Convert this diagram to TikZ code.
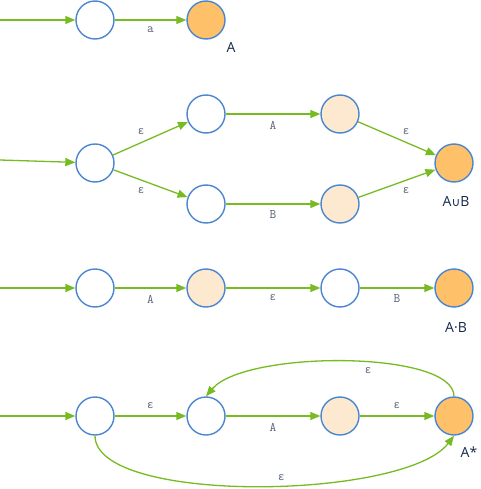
\documentclass[tikz,border=0pt]{standalone}
\usepackage{fontspec}
\setmainfont{Open Sans}
\newfontfamily\epsfont{Liberation Mono}
\newfontfamily\symfont{DejaVu Sans}
\newcommand{\eps}{{\epsfont\fontsize{11}{11}\selectfont ε}}
\usetikzlibrary{arrows.meta,positioning}
\definecolor{ringblue}{HTML}{4A86CF}
\definecolor{edgegreen}{HTML}{77BB22}
\definecolor{paleorange}{HTML}{FDE9D0}
\definecolor{fullorange}{HTML}{FEC068}
\definecolor{labgrey}{HTML}{55627A}
\definecolor{navy}{HTML}{14284B}
\begin{document}
\begin{tikzpicture}[x=1pt,y=-1pt,
  st/.style={circle,draw=ringblue,line width=1.4pt,minimum size=38pt,inner sep=0pt,fill=white},
  half/.style={st,fill=paleorange},
  acc/.style={st,fill=fullorange},
  lab/.style={font=\ttfamily\fontsize{13}{13}\selectfont,text=labgrey},
  finlab/.style={font=\fontsize{14}{14}\selectfont,text=navy},
  every edge/.style={draw=edgegreen,line width=1.3pt},
  >={Triangle[length=10pt,width=8pt]}]
\useasboundingbox (0,0) rectangle (480,489);
% row 1: a
\coordinate (i1) at (0,20);
\node[st] (p0) at (95,20) {};
\node[acc] (p1) at (206,20) {};
\node[finlab] at (231,47) {A};
% row 2: union
\coordinate (i2) at (0,160);
\node[st] (u0) at (95,163) {};
\node[st] (u1) at (206,114) {};
\node[half] (u2) at (340,114) {};
\node[st] (u3) at (206,204) {};
\node[half] (u4) at (340,204) {};
\node[acc] (u5) at (454,163) {};
\node[finlab] at (456,201) {A{\symfont\fontsize{12}{12}\selectfont∪}B};
% row 3: concatenation
\coordinate (i3) at (0,288);
\node[st] (c0) at (95,288) {};
\node[half] (c1) at (206,288) {};
\node[st] (c2) at (340,288) {};
\node[acc] (c3) at (454,288) {};
\node[finlab] at (456,327) {A·B};
% row 4: star
\coordinate (i4) at (0,416);
\node[st] (r0) at (95,416) {};
\node[st] (r1) at (206,416) {};
\node[half] (r2) at (340,416) {};
\node[acc] (r3) at (454,416) {};
\node[finlab] at (469,452) {A*};
\path [->]
    (i1) edge (p0)
    (p0) edge node[lab,below=3pt] {a} (p1)
    (i2) edge (u0)
    (u0) edge node[lab,above left=0pt and 2pt] {\eps} (u1)
    (u0) edge node[lab,below left=0pt and 2pt] {\eps} (u3)
    (u1) edge node[lab,below=3pt] {A} (u2)
    (u3) edge node[lab,below=3pt] {B} (u4)
    (u2) edge node[lab,above right=0pt and 2pt] {\eps} (u5)
    (u4) edge node[lab,below right=0pt and 2pt] {\eps} (u5)
    (i3) edge (c0)
    (c0) edge node[lab,below=3pt] {A} (c1)
    (c1) edge node[lab,below=3pt] {\eps} (c2)
    (c2) edge node[lab,below=3pt] {B} (c3)
    (i4) edge (r0)
    (r0) edge node[lab,above=3pt] {\eps} (r1)
    (r1) edge node[lab,below=3pt] {A} (r2)
    (r2) edge node[lab,above=3pt] {\eps} (r3);
\draw [->,draw=edgegreen,line width=1.3pt] (r3.north) .. controls (454,350) and (245,350) .. node[lab,pos=0.43,below=1pt] {\eps} (r1.north);
\draw [->,draw=edgegreen,line width=1.3pt] (r0.south) .. controls (95,505) and (405,500) .. node[lab,pos=0.55,above=1pt] {\eps} (r3.south);
\end{tikzpicture}
\end{document}
